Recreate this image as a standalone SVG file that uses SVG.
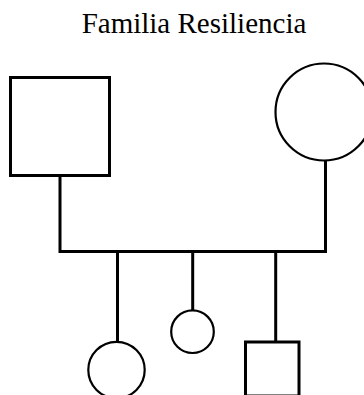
<svg xmlns="http://www.w3.org/2000/svg" width="364" height="395" viewBox="0 0 364 395">
<style>
.title{font-family:"Liberation Serif","Times New Roman",serif;font-size:29px;fill:#000;text-anchor:middle}
.sq{fill:#fff;stroke:#000;stroke-width:3}
.ci{fill:#fff;stroke:#000;stroke-width:2.2}
.ln{fill:none;stroke:#000;stroke-width:3;stroke-linejoin:miter}
</style>
<rect width="364" height="395" fill="#fff"/>
<text class="title" x="194" y="33">Familia Resiliencia</text>
<g id="connectors">
<path class="ln" d="M60 175 V251.5 H325.5 V160"/>
<path class="ln" d="M117.5 251.5 V341.5"/>
<path class="ln" d="M192.7 251.5 V310.5"/>
<path class="ln" d="M275.7 251.5 V341.5"/>
</g>
<g id="father"><rect class="sq" x="10.5" y="77.5" width="99" height="98"/></g>
<g id="mother"><circle class="ci" cx="324" cy="112" r="48.5"/></g>
<g id="child1"><circle class="ci" cx="116.5" cy="370" r="28.2"/></g>
<g id="child2"><circle class="ci" cx="192.5" cy="331.7" r="21.3"/></g>
<g id="child3"><rect class="sq" x="245.5" y="342" width="53.5" height="54"/></g>
</svg>
